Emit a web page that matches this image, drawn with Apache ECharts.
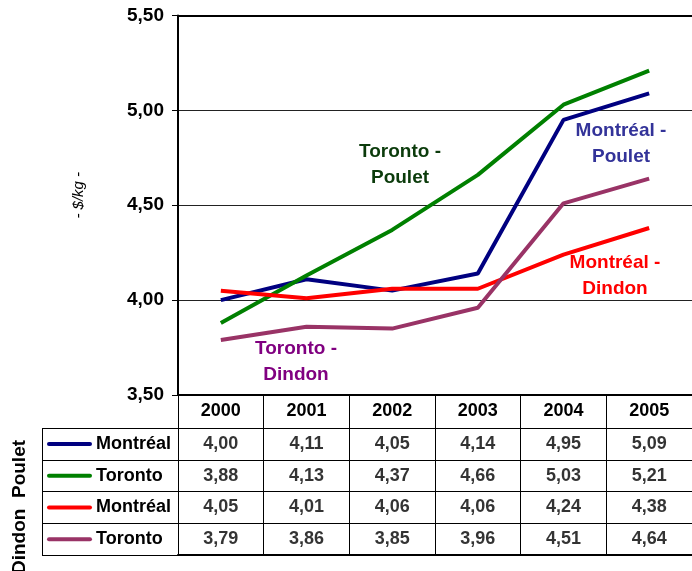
<!DOCTYPE html>
<html>
<head>
<meta charset="utf-8">
<script src="https://cdn.jsdelivr.net/npm/echarts@6/dist/echarts.min.js"></script>
<style>html,body{margin:0;padding:0;background:#fff}#c{width:692px;height:571px}</style>
</head>
<body>
<div id="c"></div>
<script>
const years = ['2000', '2001', '2002', '2003', '2004', '2005'];
const montrealPoulet = [4.00, 4.11, 4.05, 4.14, 4.95, 5.09];
const torontoPoulet = [3.88, 4.13, 4.37, 4.66, 5.03, 5.21];
const montrealDindon = [4.05, 4.01, 4.06, 4.06, 4.24, 4.38];
const torontoDindon = [3.79, 3.86, 3.85, 3.96, 4.51, 4.64];
const rowNames = ['Montréal', 'Toronto', 'Montréal', 'Toronto'];
const yMin = 3.5, yMax = 5.5, yStep = 0.5;

const FONT = '"Liberation Sans", Arial, sans-serif';
const lineColors = ['#000080', '#008000', '#ff0000', '#993366'];
const allSeries = [montrealPoulet, torontoPoulet, montrealDindon, torontoDindon];
const fmt = v => Number(v).toFixed(2).replace('.', ',');

const cellData = [];
allSeries.forEach((arr, r) => arr.forEach((v, c) => cellData.push([c, r, v])));

const rich = { t: { fontFamily: FONT, fontWeight: 'bold', fontSize: 18, color: '#000', padding: [0, 0, 0, 4] } };
lineColors.forEach((col, i) => {
  rich['l' + i] = { width: 45, height: 4, backgroundColor: col, borderRadius: 2 };
});

const chart = echarts.init(document.getElementById('c'), null, { renderer: 'canvas' });
chart.setOption({
  animation: false,
  backgroundColor: '#fff',
  grid: [
    { left: 178, right: 0, top: 15.5, height: 379.5 },
    { left: 178, right: 0, top: 428, height: 127 }
  ],
  xAxis: [
    {
      gridIndex: 0, type: 'category', data: years, boundaryGap: true, position: 'bottom',
      axisLine: { show: true, lineStyle: { color: '#000', width: 2 } },
      axisTick: { show: true, length: 33, lineStyle: { color: '#000', width: 1 } },
      axisLabel: { margin: 7, fontFamily: FONT, fontWeight: 'bold', fontSize: 18, color: '#000' },
      splitLine: { show: false }
    },
    {
      gridIndex: 1, type: 'category', data: years, boundaryGap: true, position: 'bottom',
      axisLine: { show: true, lineStyle: { color: '#000', width: 2 } },
      axisTick: { show: false }, axisLabel: { show: false },
      splitLine: { show: true, lineStyle: { color: '#000', width: 1 } }
    },
    {
      gridIndex: 0, type: 'category', data: years, position: 'top',
      axisLine: { show: true, lineStyle: { color: '#000', width: 2 } },
      axisTick: { show: false }, axisLabel: { show: false }
    }
  ],
  yAxis: [
    {
      gridIndex: 0, type: 'value', min: yMin, max: yMax, interval: yStep,
      name: '- $/kg -', nameLocation: 'middle', nameGap: 92, nameRotate: 90,
      nameTextStyle: { fontFamily: FONT, fontStyle: 'italic', fontSize: 15, color: '#000', padding: [0, 0, 0, 20] },
      axisLine: { show: true, lineStyle: { color: '#000', width: 2 } },
      axisTick: { show: true, length: 6, lineStyle: { color: '#000' } },
      axisLabel: { margin: 14, formatter: v => fmt(v), fontFamily: FONT, fontWeight: 'bold', fontSize: 19, color: '#000' },
      splitLine: { show: true, lineStyle: { color: '#222', width: 1 } }
    },
    {
      gridIndex: 1, type: 'category', data: rowNames.map((n, i) => i), inverse: true, boundaryGap: true,
      axisLine: { show: true, lineStyle: { color: '#000', width: 1 } },
      axisTick: { show: true, length: 136, lineStyle: { color: '#000', width: 1 } },
      axisLabel: {
        align: 'left', margin: 131,
        formatter: (v, i) => '{l' + i + '|}{t|' + rowNames[i] + '}',
        rich: rich
      },
      splitLine: { show: true, lineStyle: { color: '#000', width: 1 } }
    }
  ],
  series: [
    { name: 'Montréal - Poulet', type: 'line', data: montrealPoulet },
    { name: 'Toronto - Poulet', type: 'line', data: torontoPoulet },
    { name: 'Montréal - Dindon', type: 'line', data: montrealDindon },
    { name: 'Toronto - Dindon', type: 'line', data: torontoDindon }
  ].map((s, i) => Object.assign(s, {
    xAxisIndex: 0, yAxisIndex: 0, showSymbol: false, symbol: 'none',
    lineStyle: { color: lineColors[i], width: 4 }, itemStyle: { color: lineColors[i] }
  })).concat([{
    type: 'scatter', xAxisIndex: 1, yAxisIndex: 1, data: cellData, symbolSize: 0,
    label: {
      show: true, position: 'inside', formatter: p => fmt(p.value[2]),
      fontFamily: FONT, fontWeight: 'bold', fontSize: 18, color: '#000'
    }
  }]),
  graphic: [
    { type: 'line', shape: { x1: 42.5, y1: 428, x2: 42.5, y2: 555 }, style: { stroke: '#000', lineWidth: 1 } },
    { type: 'text', x: 20, y: 507, rotation: Math.PI / 2, style: { text: 'Dindon  Poulet', align: 'center', verticalAlign: 'middle', font: 'bold 19px ' + FONT, fill: '#000' } },
    { type: 'text', x: 400, y: 165, style: { text: 'Toronto -\nPoulet', align: 'center', verticalAlign: 'middle', font: 'bold 19px ' + FONT, fill: '#0b3b0b', lineHeight: 26 } },
    { type: 'text', x: 621, y: 144, style: { text: 'Montréal -\nPoulet', align: 'center', verticalAlign: 'middle', font: 'bold 19px ' + FONT, fill: '#333399', lineHeight: 26 } },
    { type: 'text', x: 615, y: 276, style: { text: 'Montréal -\nDindon', align: 'center', verticalAlign: 'middle', font: 'bold 19px ' + FONT, fill: '#ff0000', lineHeight: 26 } },
    { type: 'text', x: 296, y: 362, style: { text: 'Toronto -\nDindon', align: 'center', verticalAlign: 'middle', font: 'bold 19px ' + FONT, fill: '#800080', lineHeight: 26 } }
  ]
});
</script>
</body>
</html>
